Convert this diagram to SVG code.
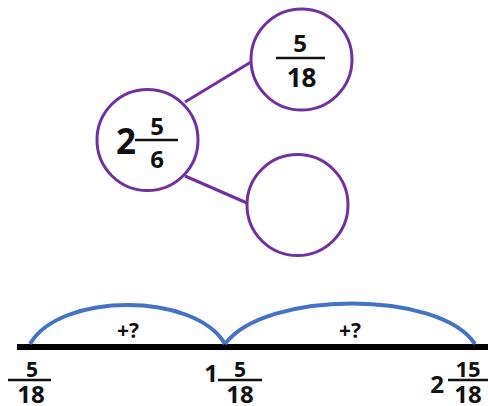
<svg xmlns="http://www.w3.org/2000/svg" width="488" height="406" viewBox="0 0 488 406">
<style>
.c{fill:#fff;stroke:#7030A0;stroke-width:3}
.e{stroke:#7030A0;stroke-width:3}
.t{font-family:"Open Sans","DejaVu Sans",sans-serif;font-weight:700;fill:#111;text-anchor:middle}
.bar{stroke:#111;stroke-width:2.5}
.arc{fill:none;stroke:#4472C4;stroke-width:4}
</style>
<rect width="488" height="406" fill="#fff"/>
<g id="connectors">
<line class="e" x1="185" y1="102" x2="251" y2="62"/>
<line class="e" x1="185" y1="176" x2="247" y2="203"/>
</g>
<g id="node-whole">
<circle class="c" cx="147.5" cy="140" r="50.5"/>
<text class="t" x="126" y="154" font-size="35">2</text>
<line class="bar" x1="135" y1="140" x2="178" y2="140"/>
<text class="t" x="157" y="135" font-size="24">5</text>
<text class="t" x="157" y="168" font-size="24">6</text>
</g>
<g id="node-part1">
<circle class="c" cx="301.5" cy="59.5" r="50.5"/>
<line class="bar" x1="276" y1="58" x2="325" y2="58"/>
<text class="t" x="300" y="52" font-size="24">5</text>
<text class="t" x="301.5" y="87" font-size="26">18</text>
</g>
<g id="node-part2">
<circle class="c" cx="297.5" cy="205" r="50.5"/>
</g>
<g id="numberline">
<line x1="17" y1="347" x2="488" y2="347" stroke="#000" stroke-width="6"/>
<path class="arc" d="M30,344 C60,292 195,292 225,344"/>
<path class="arc" d="M225,344 C265,290 440,290 475,344"/>
<text class="t" x="128" y="338" font-size="21">+?</text>
<text class="t" x="350" y="338" font-size="21">+?</text>
<text class="t" x="32" y="377" font-size="21">5</text>
<line class="bar" x1="8" y1="380" x2="51" y2="380"/>
<text class="t" x="31" y="403" font-size="24">18</text>
<text class="t" x="211" y="382" font-size="24">1</text>
<text class="t" x="240" y="377" font-size="21">5</text>
<line class="bar" x1="218" y1="380" x2="262" y2="380"/>
<text class="t" x="240" y="403" font-size="24">18</text>
<text class="t" x="437" y="393" font-size="24">2</text>
<text class="t" x="468" y="377" font-size="22">15</text>
<line class="bar" x1="448" y1="380" x2="488" y2="380"/>
<text class="t" x="468" y="403" font-size="24">18</text>
</g>
</svg>
